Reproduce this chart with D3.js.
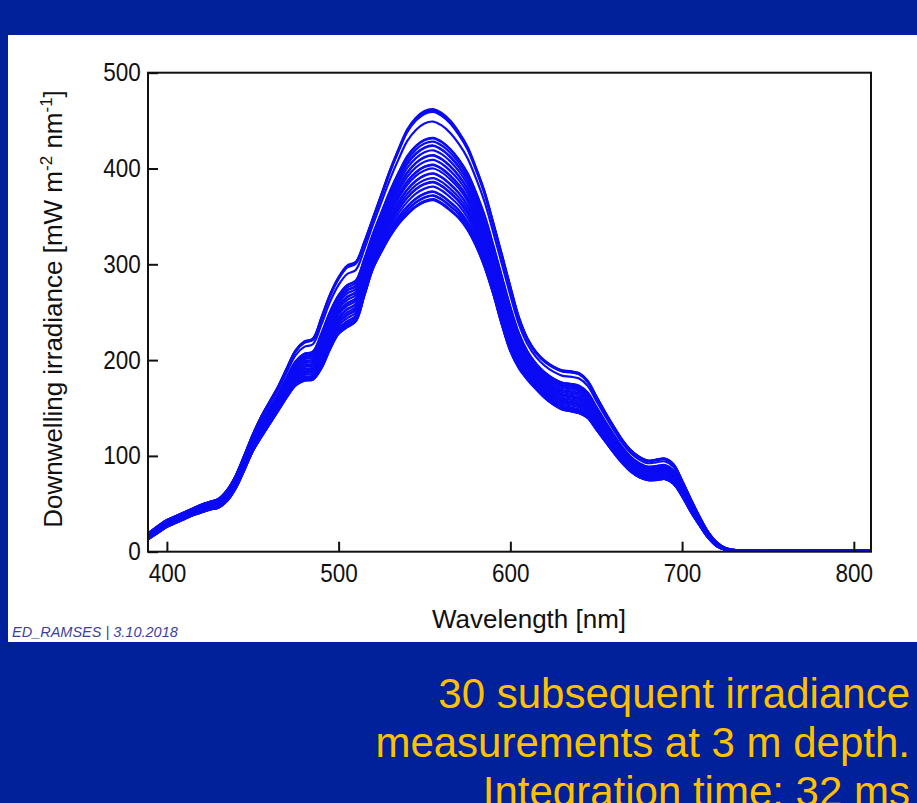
<!DOCTYPE html>
<html>
<head>
<meta charset="utf-8">
<script src="https://cdn.jsdelivr.net/npm/d3@7"></script>
<style>
  body { margin: 0; background: #00219a; }
  svg { display: block; }
  text { font-family: "Liberation Sans", Arial, sans-serif; }
</style>
</head>
<body>
<svg id="chart" width="917" height="803"></svg>
<script>
// wavelength grid [nm]
const wavelengths = [389, 395, 400, 405, 410, 415, 420, 425, 430, 435, 440, 445, 450, 455, 460, 465,
  470, 475, 480, 485, 490, 495, 500, 505, 510, 515, 520, 525, 530, 535, 540, 545, 550, 555, 560,
  565, 570, 575, 580, 585, 590, 595, 600, 605, 610, 615, 620, 625, 630, 635, 640, 645, 650, 655,
  660, 665, 670, 675, 680, 685, 690, 695, 700, 705, 710, 715, 720, 725, 730, 740, 750, 760, 770,
  780, 790, 800, 810];

const upperSpectrum = [19, 27, 33, 37, 41, 45, 49, 52, 55, 64, 79, 100, 122, 141, 157, 173,
  192, 210, 219, 222, 244, 268, 286, 298, 302, 323, 348, 373, 398, 420, 440, 452, 459, 461, 457,
  449, 437, 422, 400, 375, 343, 310, 276, 244, 222, 208, 199, 193, 189, 188, 186, 178, 162, 146,
  131, 117, 106, 99, 95, 96, 97, 91, 74, 55, 37, 21, 10, 4, 2, 1.2, 1, 1.3, 1, 1.2, 1, 1.3, 1];

// lowest measurement
const lowerSpectrum = [13, 20, 26, 30, 34, 38, 41, 44, 46, 53, 66, 85, 105, 120, 134, 148,
  162, 174, 179, 180, 192, 212, 228, 235, 241, 268, 296, 314, 330, 343, 353, 361, 366, 368, 364,
  357, 349, 337, 320, 298, 270, 238, 210, 192, 180, 170, 161, 154, 149, 147, 145, 140, 128, 116,
  104, 93, 84, 78, 75, 75, 76, 71, 58, 42, 28, 15, 6, 2, 1, 0.5, 0.5, 0.6, 0.5, 0.5, 0.6, 0.5, 0.5];

// peak irradiance of each of the 30 measurements (around 555 nm)
const peakValues = [462, 461, 460, 459, 449, 432, 431.5, 428, 424, 423.5, 419, 414, 413.5, 409,
  404, 403.5, 400, 395, 394.5, 390, 386, 385.5, 381, 376, 375.5, 372, 371.5, 368, 367.5, 367];

const xTicks = [400, 500, 600, 700, 800];
const yTicks = [0, 100, 200, 300, 400, 500];
const captionLines = ["30 subsequent irradiance", "measurements at 3 m depth.", "Integration time: 32 ms"];

const svg = d3.select("#chart");

// white slide panel
svg.append("rect")
  .attr("x", 8).attr("y", 35)
  .attr("width", 909).attr("height", 607)
  .attr("fill", "#ffffff");

const plot = { left: 148, right: 871, top: 72.7, bottom: 551.7 };

const x = d3.scaleLinear().domain([389, 810]).range([plot.left, plot.right]);
const y = d3.scaleLinear().domain([0, 500]).range([plot.bottom, plot.top]);

// build the 30 series between lowest and highest spectrum
const peakIdx = wavelengths.indexOf(555);
const lowPeak = lowerSpectrum[peakIdx];
const highPeak = upperSpectrum[peakIdx];
const series = peakValues.map((p) => {
  const t = (p - lowPeak) / (highPeak - lowPeak);
  return wavelengths.map((w, i) => ({
    w: w,
    v: lowerSpectrum[i] + t * (upperSpectrum[i] - lowerSpectrum[i])
  }));
});

svg.append("clipPath").attr("id", "clip")
  .append("rect")
  .attr("x", plot.left).attr("y", plot.top)
  .attr("width", plot.right - plot.left).attr("height", plot.bottom - plot.top);

const line = d3.line()
  .x((d) => x(d.w))
  .y((d) => y(d.v))
  .curve(d3.curveCatmullRom.alpha(0.5));

svg.append("g")
  .attr("clip-path", "url(#clip)")
  .selectAll("path")
  .data(series)
  .join("path")
  .attr("d", line)
  .attr("fill", "none")
  .attr("stroke", "#0b0bf5")
  .attr("stroke-width", 2.2);

// frame
svg.append("rect")
  .attr("x", plot.left).attr("y", plot.top)
  .attr("width", plot.right - plot.left).attr("height", plot.bottom - plot.top)
  .attr("fill", "none")
  .attr("stroke", "#111")
  .attr("stroke-width", 2);

// x axis, ticks inward
const xAxis = svg.append("g")
  .attr("transform", `translate(0, ${plot.bottom})`)
  .call(d3.axisBottom(x).tickValues(xTicks).tickSizeInner(-10).tickSizeOuter(0).tickPadding(13));
xAxis.select(".domain").remove();
xAxis.selectAll("line").attr("stroke", "#111").attr("stroke-width", 2);
xAxis.selectAll("text")
  .attr("font-size", 25)
  .attr("fill", "#111")
  .attr("transform", "scale(0.9,1)")
  .style("font-family", "'Liberation Sans', Arial, sans-serif");

// y axis, ticks inward
const yAxis = svg.append("g")
  .attr("transform", `translate(${plot.left}, 0)`)
  .call(d3.axisLeft(y).tickValues(yTicks).tickSizeInner(-10).tickSizeOuter(0).tickPadding(8));
yAxis.select(".domain").remove();
yAxis.selectAll("line").attr("stroke", "#111").attr("stroke-width", 2);
yAxis.selectAll("text")
  .attr("font-size", 25)
  .attr("fill", "#111")
  .attr("transform", "scale(0.9,1)")
  .style("font-family", "'Liberation Sans', Arial, sans-serif");

// axis titles
svg.append("text")
  .attr("x", 529).attr("y", 628)
  .attr("text-anchor", "middle")
  .attr("font-size", 26)
  .attr("fill", "#111")
  .text("Wavelength [nm]");

const yTitle = svg.append("text")
  .attr("transform", "translate(62, 309) rotate(-90)")
  .attr("text-anchor", "middle")
  .attr("font-size", 26)
  .attr("fill", "#111");
yTitle.append("tspan").text("Downwelling irradiance [mW m");
yTitle.append("tspan").attr("font-size", 17).attr("dy", -10).text("-2");
yTitle.append("tspan").attr("dy", 10).text(" nm");
yTitle.append("tspan").attr("font-size", 17).attr("dy", -10).text("-1");
yTitle.append("tspan").attr("dy", 10).text("]");

// footer
svg.append("text")
  .attr("x", 12).attr("y", 637)
  .attr("font-size", 14.5)
  .attr("font-style", "italic")
  .attr("fill", "#3c3fa0")
  .text("ED_RAMSES | 3.10.2018");

// caption
svg.append("g")
  .selectAll("text")
  .data(captionLines)
  .join("text")
  .attr("x", 910)
  .attr("y", (d, i) => 708 + i * 49)
  .attr("text-anchor", "end")
  .attr("font-size", 42)
  .attr("fill", "#ffc000")
  .text((d) => d);
</script>
</body>
</html>
